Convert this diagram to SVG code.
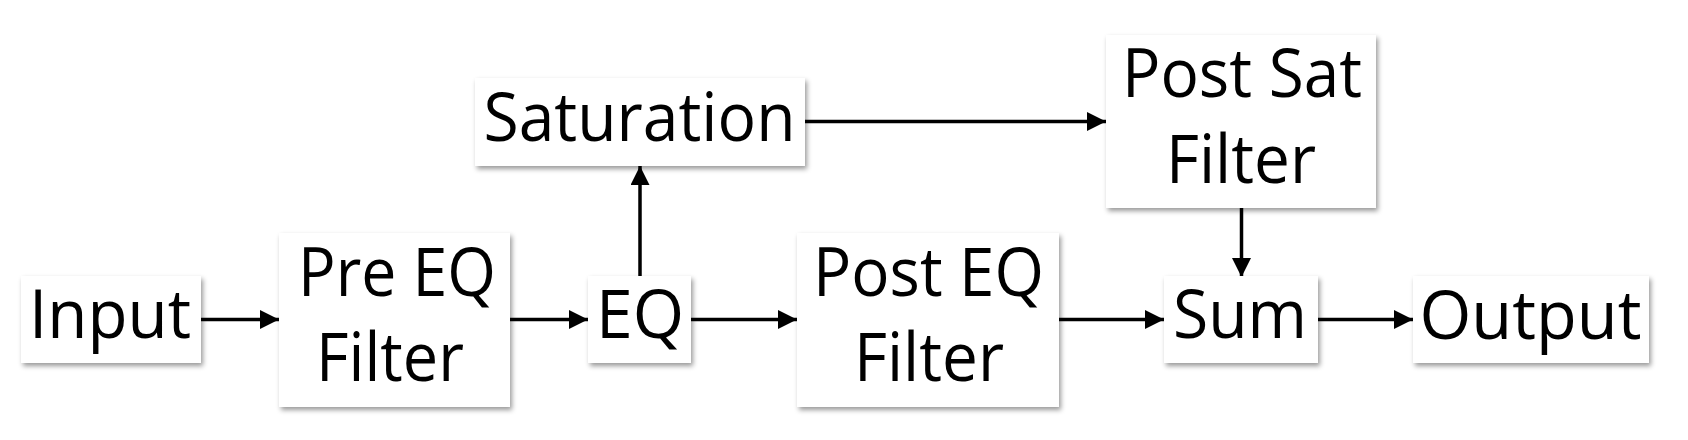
<svg xmlns="http://www.w3.org/2000/svg" width="1688" height="440" viewBox="0 0 1688 440">
  <defs>
    <filter id="shadow" x="-10%" y="-10%" width="125%" height="130%">
      <feDropShadow dx="2" dy="3" stdDeviation="2.5" flood-color="#000" flood-opacity="0.4"/>
    </filter>
    <marker id="arrow" markerUnits="userSpaceOnUse" markerWidth="20" markerHeight="20" refX="19" refY="9.5" orient="auto">
      <path d="M0,0 L19,9.5 L0,19 Z" fill="#000"/>
    </marker>
    <style>
      .box { fill: #fff; filter: url(#shadow); }
      .lbl { font-family: "Open Sans", "Noto Sans", sans-serif; font-size: 68px; fill: #000; text-anchor: middle; }
      .conn { stroke: #000; stroke-width: 3.5; fill: none; marker-end: url(#arrow); }
    </style>
  </defs>
  <rect width="1688" height="440" fill="#fff"/>

  <g id="connectors">
    <path class="conn" d="M201,319.5 H279"/>
    <path class="conn" d="M510,319.5 H588"/>
    <path class="conn" d="M640,276 V166"/>
    <path class="conn" d="M691,319.5 H797"/>
    <path class="conn" d="M805,121.5 H1106"/>
    <path class="conn" d="M1059,319.5 H1164"/>
    <path class="conn" d="M1241.5,208 V277"/>
    <path class="conn" d="M1318,319.5 H1413"/>
  </g>

  <g id="node-input">
    <rect class="box" x="21" y="276" width="180" height="87"/>
    <text class="lbl" x="110" y="338" textLength="162" lengthAdjust="spacingAndGlyphs">Input</text>
  </g>
  <g id="node-pre-eq-filter">
    <rect class="box" x="279" y="233" width="231" height="174"/>
    <text class="lbl" x="397" y="296" textLength="198" lengthAdjust="spacingAndGlyphs">Pre EQ</text>
    <text class="lbl" x="390" y="381" textLength="148" lengthAdjust="spacingAndGlyphs">Filter</text>
  </g>
  <g id="node-eq">
    <rect class="box" x="588" y="276" width="103" height="87"/>
    <text class="lbl" x="640" y="338" textLength="88" lengthAdjust="spacingAndGlyphs">EQ</text>
  </g>
  <g id="node-saturation">
    <rect class="box" x="475" y="78" width="330" height="88"/>
    <text class="lbl" x="639.5" y="141" textLength="312" lengthAdjust="spacingAndGlyphs">Saturation</text>
  </g>
  <g id="node-post-eq-filter">
    <rect class="box" x="797" y="233" width="262" height="174"/>
    <text class="lbl" x="928.5" y="296" textLength="231" lengthAdjust="spacingAndGlyphs">Post EQ</text>
    <text class="lbl" x="929" y="381" textLength="150" lengthAdjust="spacingAndGlyphs">Filter</text>
  </g>
  <g id="node-post-sat-filter">
    <rect class="box" x="1106" y="35" width="270" height="173"/>
    <text class="lbl" x="1242" y="97" textLength="240" lengthAdjust="spacingAndGlyphs">Post Sat</text>
    <text class="lbl" x="1241" y="183" textLength="150" lengthAdjust="spacingAndGlyphs">Filter</text>
  </g>
  <g id="node-sum">
    <rect class="box" x="1164" y="276" width="154" height="87"/>
    <text class="lbl" x="1240" y="338" textLength="134" lengthAdjust="spacingAndGlyphs">Sum</text>
  </g>
  <g id="node-output">
    <rect class="box" x="1413" y="276" width="236" height="87"/>
    <text class="lbl" x="1530.5" y="339" textLength="222" lengthAdjust="spacingAndGlyphs">Output</text>
  </g>
</svg>
